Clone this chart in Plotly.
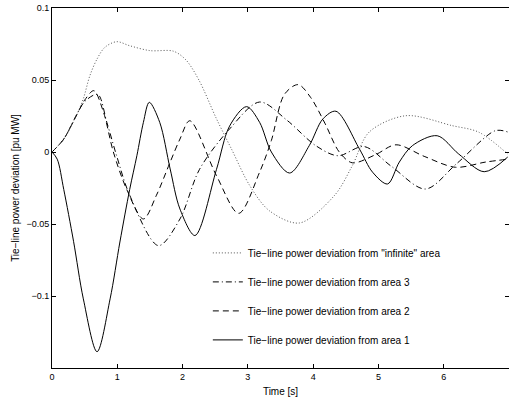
import plotly.graph_objects as go

# ---- data ----
t_area1 = [0, 0.08, 0.18, 0.33, 0.48, 0.69, 0.89, 1.04, 1.19, 1.30, 1.40, 1.49, 1.65, 1.81, 1.96, 2.19,
           2.52, 2.72, 2.98, 3.18, 3.36, 3.64, 3.94, 4.15, 4.35, 4.71, 4.91, 5.14, 5.32, 5.52, 5.90,
           6.23, 6.62, 6.98]
v_area1 = [0, -0.005, -0.026, -0.062, -0.102, -0.1387, -0.102, -0.0625, -0.026, -0.0026, 0.0206, 0.0345,
           0.0206, -0.0118, -0.0396, -0.058, -0.012, 0.018, 0.0315, 0.0206, 0.0, -0.0146, 0.0044, 0.023,
           0.0283, 0.002, -0.014, -0.0222, -0.007, 0.0044, 0.0113, -0.0014, -0.0137, -0.0035]

t_area2 = [0, 0.18, 0.38, 0.5, 0.64, 0.79, 0.94, 1.145, 1.40, 1.60, 1.81, 1.96, 2.11, 2.52, 2.86,
           3.18, 3.36, 3.56, 3.77, 3.96, 4.18, 4.40, 4.60, 4.95, 5.27, 5.70, 6.18, 6.64, 6.98]
v_area2 = [0, 0.009, 0.026, 0.036, 0.0426, 0.0275, 0.0, -0.026, -0.0465, -0.030, -0.007, 0.009, 0.0217,
           -0.0165, -0.0426, -0.014, 0.008, 0.040, 0.0468, 0.038, 0.020, 0.0, -0.0075, -0.002, 0.005,
           -0.003, -0.0106, -0.007, -0.005]

t_area3 = [0, 0.18, 0.38, 0.5, 0.70, 0.84, 0.99, 1.19, 1.63, 1.96, 2.26, 2.72, 3.18, 3.60, 4.04,
           4.38, 4.78, 5.20, 5.72, 6.20, 6.79, 6.98]
v_area3 = [0, 0.009, 0.026, 0.035, 0.040, 0.0206, -0.0026, -0.030, -0.065, -0.0465, -0.012, 0.016,
           0.0347, 0.022, 0.0044, -0.0026, 0.0038, -0.010, -0.0257, -0.008, 0.0148, 0.0139]

t_inf = [0, 0.18, 0.38, 0.48, 0.58, 0.69, 0.81, 0.99, 1.19, 1.5, 1.86, 2.05, 2.25, 2.52, 2.75,
         3.03, 3.33, 3.79, 4.33, 4.60, 4.86, 5.42, 6.13, 6.54, 6.98]
v_inf = [0, 0.009, 0.026, 0.037, 0.053, 0.0646, 0.0727, 0.0766, 0.0738, 0.0704, 0.070, 0.064,
         0.050, 0.023, 0.002, -0.0234, -0.0408, -0.0493, -0.030, -0.0095, 0.0139, 0.0252, 0.0183,
         0.0137, -0.0014]

x_ticks = [0, 1, 2, 3, 4, 5, 6, 7]
y_ticks = [-0.1, -0.05, 0, 0.05, 0.1]
y_tick_labels = ["\u22120.1", "\u22120.05", "0", "0.05", "0.1"]

names = {
    "inf": 'Tie\u2212line power deviation from "infinite" area',
    "a3": "Tie\u2212line power deviation from area 3",
    "a2": "Tie\u2212line power deviation from area 2",
    "a1": "Tie\u2212line power deviation from area 1",
}

FONT = "Liberation Sans, Arial, Helvetica, sans-serif"
SPL = dict(shape="spline", smoothing=0.9)

fig = go.Figure()
fig.add_trace(go.Scatter(x=t_area1, y=v_area1, mode="lines", name=names["a1"], legendgroup="a1",
                         legendrank=4, line=dict(color="black", width=1, **SPL)))
fig.add_trace(go.Scatter(x=t_area2, y=v_area2, mode="lines", name=names["a2"], legendgroup="a2",
                         legendrank=3, line=dict(color="black", width=1, dash="6px,4px", **SPL)))
fig.add_trace(go.Scatter(x=t_area3, y=v_area3, mode="lines", name=names["a3"], legendgroup="a3",
                         legendrank=2, line=dict(color="black", width=1, dash="6px,3px,1px,3px", **SPL)))
fig.add_trace(go.Scatter(x=t_inf, y=v_inf, mode="lines", name=names["inf"], legendgroup="inf",
                         legendrank=1, line=dict(color="#555555", width=1, dash="1px,2px", **SPL)))

fig.update_layout(
    width=509, height=399,
    margin=dict(l=52, r=0, t=8, b=31),
    paper_bgcolor="white", plot_bgcolor="white",
    font=dict(family=FONT, size=10, color="black"),
    showlegend=True,
    legend=dict(x=0.341, y=0.36, xanchor="left", yanchor="top", bgcolor="rgba(0,0,0,0)",
                traceorder="grouped", tracegroupgap=10, font=dict(size=10)),
)
fig.update_xaxes(range=[0, 7], tickvals=x_ticks, ticks="inside", ticklen=4, showgrid=False,
                 zeroline=False, showline=True, linecolor="black", linewidth=1, mirror="ticks",
                 tickcolor="black", tickfont=dict(size=9),
                 title=dict(text="Time [s]", font=dict(size=10), standoff=7))
fig.update_yaxes(range=[-0.15, 0.1], tickvals=y_ticks, ticktext=y_tick_labels, ticks="inside", ticklen=4,
                 showgrid=False, zeroline=False, showline=True, linecolor="black", linewidth=1,
                 mirror="ticks", tickcolor="black", tickfont=dict(size=9),
                 title=dict(text="Tie\u2212line power deviation [pu MW]", font=dict(size=10), standoff=4))

fig.write_html("out.html")
